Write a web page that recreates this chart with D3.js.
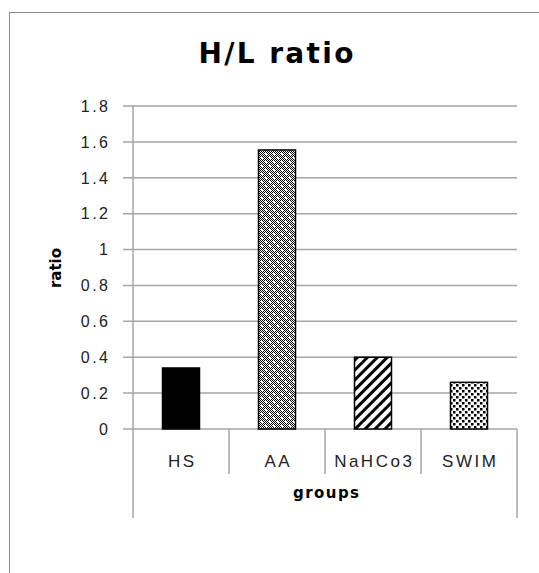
<!DOCTYPE html>
<html><head><meta charset="utf-8">
<script src="https://cdn.jsdelivr.net/npm/d3@7"></script>
<style>body{margin:0;background:#fff}svg{display:block}</style>
</head><body>
<script>
const categories = ["HS", "AA", "NaHCo3", "SWIM"];
const values = [0.34, 1.555, 0.40, 0.26];
const fills = ["solid", "checker", "stripes", "dots"];
const yTicks = [0, 0.2, 0.4, 0.6, 0.8, 1, 1.2, 1.4, 1.6, 1.8];
const title = "H/L ratio";
const xTitle = "groups";
const yTitle = "ratio";

(function(){
const W = 539, H = 573;
const svg = d3.select("body").append("svg").attr("width", W).attr("height", H);
const defs = svg.append("defs");

const pc = defs.append("pattern").attr("id","checker").attr("patternUnits","userSpaceOnUse").attr("width",8).attr("height",8);
pc.append("rect").attr("width",8).attr("height",8).attr("fill","#fff");
for (let i=0;i<8;i++) for (let j=0;j<8;j++) if ((i+j)%2===0) pc.append("rect").attr("x",i).attr("y",j).attr("width",1).attr("height",1).attr("fill","#000");
pc.append("rect").attr("x",1).attr("y",1).attr("width",2).attr("height",2).attr("fill","#fff");
pc.append("rect").attr("x",5).attr("y",5).attr("width",2).attr("height",2).attr("fill","#fff");

const ps = defs.append("pattern").attr("id","stripes").attr("patternUnits","userSpaceOnUse").attr("width",7).attr("height",7).attr("patternTransform","rotate(45)");
ps.append("rect").attr("width",7).attr("height",7).attr("fill","#fff");
ps.append("rect").attr("width",3).attr("height",7).attr("fill","#000");

const pd = defs.append("pattern").attr("id","dots").attr("patternUnits","userSpaceOnUse").attr("width",6).attr("height",6);
pd.append("rect").attr("width",6).attr("height",6).attr("fill","#fff");
pd.append("rect").attr("x",0).attr("y",0).attr("width",2.5).attr("height",2.5).attr("fill","#000");
pd.append("rect").attr("x",3).attr("y",3).attr("width",2.5).attr("height",2.5).attr("fill","#000");

svg.append("rect").attr("x",9.5).attr("y",12.5).attr("width",600).attr("height",600)
  .attr("fill","none").attr("stroke","#8c8c8c").attr("stroke-width",1);

const pL = 133, pR = 517, pT = 106, pB = 429;
const y = d3.scaleLinear().domain([0,1.8]).range([pB, pT]);
const x = d3.scaleBand().domain(categories).range([pL, pR]).paddingInner(0).paddingOuter(0);

const gridC = "#a6a6a6";
svg.append("g").selectAll("line").data(yTicks).join("line")
  .attr("x1", pL-10).attr("x2", pR).attr("y1", d=>y(d)).attr("y2", d=>y(d))
  .attr("stroke", gridC).attr("stroke-width",1.5);

svg.append("line").attr("x1",pL).attr("x2",pL).attr("y1",pT).attr("y2",518).attr("stroke",gridC).attr("stroke-width",1.5);
svg.append("line").attr("x1",pR).attr("x2",pR).attr("y1",pB).attr("y2",518).attr("stroke",gridC).attr("stroke-width",1.5);
svg.append("g").selectAll("line").data(categories.slice(1)).join("line")
  .attr("x1", d=>x(d)).attr("x2", d=>x(d)).attr("y1", pB).attr("y2", 474)
  .attr("stroke", gridC).attr("stroke-width",1.5);

const tickLS = 2.5;
svg.append("g").selectAll("text").data(yTicks).join("text")
  .attr("x", 108 + tickLS).attr("y", d=>y(d)).attr("dy","0.36em").attr("text-anchor","end")
  .attr("font-family","Liberation Sans, Arial, sans-serif").attr("font-size",16).attr("letter-spacing",tickLS)
  .attr("fill","#222").text(d=>d);

const barW = 37;
svg.append("g").selectAll("rect").data(categories).join("rect")
  .attr("x", d=>x(d)+x.bandwidth()/2-barW/2).attr("width", barW)
  .attr("y", (d,i)=>y(values[i])).attr("height", (d,i)=>pB-y(values[i]))
  .attr("fill", (d,i)=>fills[i]==="solid" ? "#000" : `url(#${fills[i]})`)
  .attr("stroke","#000").attr("stroke-width",1.5);

const catLS = 2.5;
svg.append("g").selectAll("text").data(categories).join("text")
  .attr("x", d=>x(d)+x.bandwidth()/2 + catLS/2).attr("y", 467).attr("text-anchor","middle")
  .attr("font-family","Liberation Sans, Arial, sans-serif").attr("font-size",17).attr("letter-spacing",catLS)
  .attr("fill","#222").text(d=>d);

svg.append("text").attr("x",326).attr("y",498).attr("text-anchor","middle")
  .attr("font-family","DejaVu Sans, sans-serif").attr("font-weight","bold").attr("font-size",15)
  .attr("textLength",66).attr("lengthAdjust","spacing")
  .attr("fill","#000").text(xTitle);
svg.append("text").attr("transform","translate(61,268) rotate(-90)").attr("text-anchor","middle")
  .attr("font-family","DejaVu Sans, sans-serif").attr("font-weight","bold").attr("font-size",15)
  .attr("textLength",40).attr("lengthAdjust","spacing")
  .attr("fill","#000").text(yTitle);

svg.append("text").attr("x",276).attr("y",63).attr("text-anchor","middle")
  .attr("font-family","DejaVu Sans, sans-serif").attr("font-weight","bold").attr("font-size",28)
  .attr("textLength",155).attr("lengthAdjust","spacing")
  .attr("fill","#000").text(title);
})();
</script>
</body></html>
